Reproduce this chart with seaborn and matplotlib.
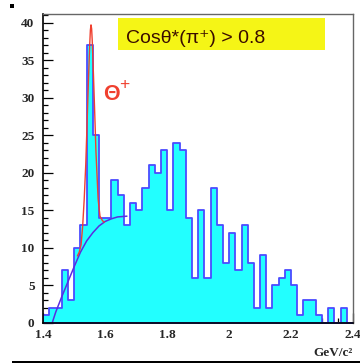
import numpy as np
import pandas as pd
import matplotlib
matplotlib.use("Agg")
import matplotlib.pyplot as plt
import seaborn as sns
from matplotlib.patches import Rectangle
from matplotlib.ticker import MultipleLocator

# histogram: 50 bins of 20 MeV from 1.4 to 2.4 GeV/c^2
BIN_LO = 1.40
BIN_HI = 2.40
BIN_W = 0.02
COUNTS = [1, 2, 2, 7, 3, 10, 13, 37, 25, 14,
          14, 19, 17, 13, 16, 15, 18, 21, 20, 23,
          15, 24, 23, 14, 6, 15, 6, 18, 13, 8,
          12, 7, 13, 8, 2, 9, 2, 5, 6, 7,
          5, 1, 3, 3, 1, 0, 2, 0, 2, 0]

# background curve (blue)
BG_X = [1.429, 1.44, 1.46, 1.48, 1.50, 1.52, 1.54, 1.56, 1.58, 1.60, 1.62, 1.64, 1.67]
BG_Y = [0.0, 1.4, 3.5, 5.5, 7.5, 9.4, 10.9, 12.0, 12.9, 13.5, 13.85, 14.1, 14.2]

# full fit (red)
FIT_X = [1.510, 1.516, 1.522, 1.527, 1.532, 1.537, 1.542, 1.546, 1.550, 1.552,
         1.554, 1.556, 1.558, 1.562, 1.566, 1.570, 1.577, 1.583, 1.591, 1.597]
FIT_Y = [8.9, 9.4, 10.4, 12.8, 16.4, 21.0, 27.4, 32.6, 37.2, 39.0,
         39.7, 39.2, 37.6, 33.0, 28.0, 22.8, 16.5, 14.2, 13.6, 13.4]

CUT_LABEL = "Cosθ*(π⁺) > 0.8"
PEAK_LABEL = "Θ"
X_LABEL = "GeV/c²"

CYAN = "#22ffff"
EDGE = "#4b4bff"
BG_COL = "#5a2de0"
RED = "#f0402f"

sns.set_theme(style="white")
plt.rcParams["font.family"] = ["Liberation Sans", "DejaVu Sans"]

edges = [round(BIN_LO + i * BIN_W, 3) for i in range(len(COUNTS) + 1)]
centers = [(a + b) / 2 for a, b in zip(edges[:-1], edges[1:])]
df = pd.DataFrame({"mass": centers, "n": COUNTS})

fig = plt.figure(figsize=(3.6, 3.63), dpi=100)
ax = fig.add_axes([43.3 / 360, 40.3 / 363, (353 - 43.3) / 360, (349 - 40.3) / 363])

sns.histplot(data=df, x="mass", weights="n", bins=edges, element="step", fill=True,
             facecolor=CYAN, edgecolor=EDGE, linewidth=1.3, alpha=1, ax=ax)
sns.lineplot(x=BG_X, y=BG_Y, sort=False, color=BG_COL, linewidth=1.1, ax=ax)
sns.lineplot(x=FIT_X, y=FIT_Y, sort=False, color=RED, linewidth=1.0, ax=ax)

ax.set_xlim(BIN_LO, BIN_HI)
ax.set_ylim(0, 41.15)
ax.set_xlabel("")
ax.set_ylabel("")
ax.xaxis.set_major_locator(MultipleLocator(0.2))
ax.xaxis.set_minor_locator(MultipleLocator(0.05))
ax.yaxis.set_major_locator(MultipleLocator(5))
ax.yaxis.set_minor_locator(MultipleLocator(1))
ax.set_xticks(np.arange(1.4, 2.41, 0.2))
ax.set_xticklabels(["1.4", "1.6", "1.8", "2", "2.2", "2.4"])
ax.tick_params(which="both", direction="in", color="black", width=0.9,
               bottom=True, left=True, top=False, right=False)
ax.tick_params(which="major", length=7)
ax.tick_params(which="minor", length=3.5)
ax.tick_params(axis="x", pad=4.5)
ax.tick_params(axis="y", pad=6.3)
for lab in ax.get_xticklabels() + ax.get_yticklabels():
    lab.set_fontfamily("Liberation Serif")
    lab.set_fontweight("bold")
    lab.set_fontsize(9.5)

for side in ["left", "bottom"]:
    ax.spines[side].set_color("black")
    ax.spines[side].set_linewidth(1.2)
for side in ["top", "right"]:
    ax.spines[side].set_color("#666666")
    ax.spines[side].set_linewidth(1.0)

fig.text(353 / 360, 1 - 355.5 / 363, X_LABEL, ha="right", va="baseline",
         fontfamily="Liberation Serif", fontweight="bold", fontsize=9.5)

# cut label box
fig.patches.append(Rectangle((118.3 / 360, 1 - 50 / 363), (325 - 118.3) / 360, 31.7 / 363,
                             transform=fig.transFigure, facecolor="#f5f516",
                             edgecolor="none", zorder=5))
fig.text(126 / 360, 1 - 42.7 / 363, CUT_LABEL, ha="left", va="baseline",
         fontsize=14, color="#3a0c00", zorder=6)

# peak label
fig.text(103.5 / 360, 1 - 100 / 363, PEAK_LABEL, ha="left", va="baseline",
         fontsize=15.5, color=RED, fontweight="bold")
fig.text(119.5 / 360, 1 - 88.5 / 363, "+", ha="left", va="baseline",
         fontsize=12.5, color=RED)

# little frame marks of the original page
fig.patches.append(Rectangle((10 / 360, 1 - 7.5 / 363), 4 / 360, 3.5 / 363,
                             transform=fig.transFigure, facecolor="black", edgecolor="none"))
fig.patches.append(Rectangle((12 / 360, 0), 348 / 360, 2.5 / 363,
                             transform=fig.transFigure, facecolor="black", edgecolor="none"))

fig.savefig("out.png", dpi=100)
